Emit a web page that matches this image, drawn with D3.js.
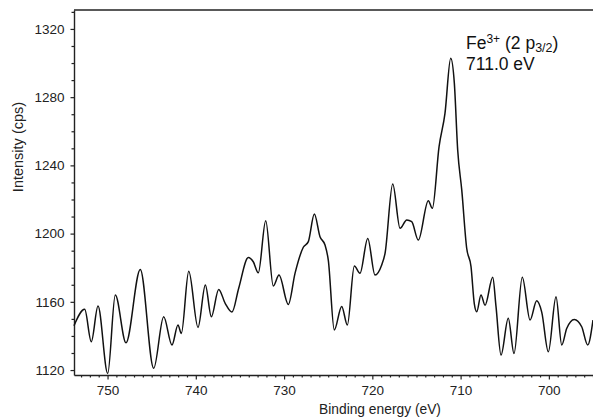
<!DOCTYPE html>
<html><head><meta charset="utf-8">
<script src="https://cdn.jsdelivr.net/npm/d3@7/dist/d3.min.js"></script>
<style>
html,body{margin:0;padding:0;background:#fff;}
svg{display:block;font-family:"Liberation Sans",Arial,Helvetica,sans-serif;}
</style></head>
<body><svg id="c" width="593" height="419"></svg>
<script>
// Binding energy (eV) and intensity (cps)
const energy = [753.80,752.59,751.84,751.08,749.98,749.12,747.91,746.29,744.77,743.64,742.70,742.02,741.64,740.80,739.75,738.92,738.24,737.41,736.66,735.90,735.14,734.05,733.49,732.92,732.08,731.22,730.57,729.52,728.76,727.82,727.25,726.57,725.93,725.36,724.99,724.31,723.47,722.83,722.04,721.40,720.52,719.70,718.94,718.56,717.69,716.86,716.10,715.54,714.79,713.66,713.20,712.44,711.77,711.12,710.71,710.33,709.87,709.31,708.82,708.45,708.17,707.69,707.23,706.36,705.99,705.42,704.60,703.95,703.01,702.13,701.38,700.81,700.06,699.19,698.54,697.98,697.12,696.28,695.60,695.00];
const intensity = [1146,1155.6,1136.6,1157.5,1118,1164,1136,1179,1121,1151.3,1134.7,1146.4,1141.5,1178,1145,1169.9,1151.3,1167.3,1159,1154,1168,1186,1183.5,1177,1207.6,1169.3,1175.7,1158.5,1176.7,1192,1195.3,1211.5,1198.2,1193.3,1184.5,1143.5,1157.3,1146.4,1181,1176.7,1197.2,1175.7,1181.6,1188.4,1229.1,1203.1,1208,1207,1196.2,1219.3,1214.8,1251,1270.5,1302.8,1288.2,1249,1225.6,1191.4,1180.6,1159,1154.2,1164,1158,1174.4,1157.3,1128.8,1150.4,1129.7,1174.4,1149.3,1160.6,1154,1130.7,1163,1134.7,1144.4,1149.7,1145.4,1134.7,1149.3];
const xTicks = [750,740,730,720,710,700];
const yTicks = [1120,1160,1200,1240,1280,1320];
const xTitle = "Binding energy (eV)";
const yTitle = "Intensity (cps)";

const svg = d3.select("#c");
const L=74, R=593, T=10, B=375;
const x = d3.scaleLinear().domain([753.8,695.0]).range([L,R]);
const y = d3.scaleLinear().domain([1117.1,1331.1]).range([B,T]);
const ink="#222";

// minor ticks
const xMinor = d3.range(695,754,1).filter(v=>!xTicks.includes(v));
const yMinor = d3.range(1120,1331,10).filter(v=>!yTicks.includes(v));
svg.append("g").attr("transform",`translate(0,${B})`)
  .call(d3.axisBottom(x).tickValues(xMinor).tickSize(2.5).tickFormat(""))
  .call(g=>g.select(".domain").remove());
svg.append("g").attr("transform",`translate(${L},0)`)
  .call(d3.axisLeft(y).tickValues(yMinor).tickSize(2.5).tickFormat(""))
  .call(g=>g.select(".domain").remove());

// major axes
svg.append("g").attr("transform",`translate(0,${B})`)
  .call(d3.axisBottom(x).tickValues(xTicks).tickSize(4.5).tickSizeOuter(0).tickPadding(6).tickFormat(d3.format("d")));
svg.append("g").attr("transform",`translate(${L},0)`)
  .call(d3.axisLeft(y).tickValues(yTicks).tickSize(3.5).tickSizeOuter(0).tickPadding(6).tickFormat(d3.format("d")));
svg.selectAll(".tick line").attr("stroke",ink).attr("stroke-width",1.2);
svg.selectAll(".domain").attr("stroke",ink).attr("stroke-width",1.4);
svg.selectAll(".tick text").attr("fill","#222").style("font-size","13.5px").style("font-family","'Liberation Sans',Arial,sans-serif");

// top border
svg.append("line").attr("x1",L).attr("x2",R).attr("y1",T).attr("y2",T).attr("stroke",ink).attr("stroke-width",1.4);

// axis titles
svg.append("text").attr("x",380).attr("y",414).attr("text-anchor","middle")
  .attr("fill","#222").style("font-size","13.8px").text(xTitle);
svg.append("text").attr("transform","translate(23,147) rotate(-90)").attr("text-anchor","middle")
  .attr("fill","#222").style("font-size","14.5px").text(yTitle);

// curve
const data = energy.map((e,i)=>[e,intensity[i]]);
svg.append("path").datum(data)
  .attr("fill","none").attr("stroke","#111").attr("stroke-width",1.5).attr("stroke-linejoin","round")
  .attr("d", d3.line().x(d=>x(d[0])).y(d=>y(d[1])).curve(d3.curveMonotoneX));

// annotation
const a = svg.append("text").attr("x",466).attr("y",49).attr("fill","#111").style("font-size","17.5px");
a.append("tspan").text("Fe");
a.append("tspan").attr("dy",-6).style("font-size","12px").text("3+");
a.append("tspan").attr("dy",6).text(" (2 p");
a.append("tspan").attr("dy",3).style("font-size","12.5px").text("3/2");
a.append("tspan").attr("dy",-3).text(")");
svg.append("text").attr("x",466).attr("y",70).attr("fill","#111").style("font-size","17.5px").text("711.0 eV");
</script></body></html>
